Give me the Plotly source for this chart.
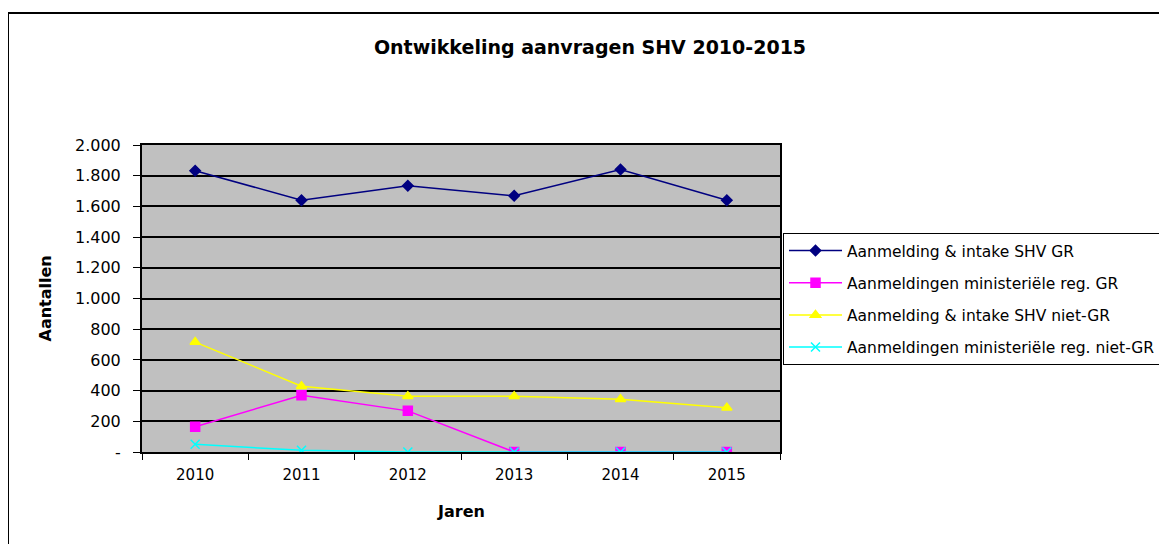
import plotly.graph_objects as go

jaren = ['2010', '2011', '2012', '2013', '2014', '2015']

series = {
    'Aanmelding & intake SHV GR': [1832, 1640, 1734, 1669, 1841, 1640],
    'Aanmeldingen ministeriële reg. GR': [165, 370, 268, 0, 0, 0],
    'Aanmelding & intake SHV niet-GR': [716, 429, 363, 363, 344, 289],
    'Aanmeldingen ministeriële reg. niet-GR': [50, 11, 0, 0, 0, 0],
}

colors = ['#000080', '#FF00FF', '#FFFF00', '#00FFFF']
symbols = ['diamond', 'square', 'triangle-up', 'x-thin-open']
sizes = [8, 9, 9, 9]

fig = go.Figure()

for idx, (name, vals) in enumerate(series.items()):
    fig.add_trace(go.Scatter(
        x = jaren,
        y = vals,
        mode = 'markers+lines',
        name = name,
        legendgroup = name,
        line = dict(color=colors[idx], width=1.5),
        marker = dict(symbol=symbols[idx], size=sizes[idx], color=colors[idx],
                      line=dict(color=colors[idx], width=1.5)),
    ))

tickvals = list(range(0, 2001, 200))
ticktext = ['-' if v == 0 else f'{v:,}'.replace(',', '.') for v in tickvals]

off = 8  # pagina-marge van de browser
fig.update_layout(
    width=1167, height=544,
    margin=dict(l=142-off, r=1167-(142-off)-638, t=145-off, b=544-(145-off)-307),
    paper_bgcolor='white',
    plot_bgcolor='#C0C0C0',
    font=dict(family='DejaVu Sans', size=15, color='black'),
    showlegend=True,
    title=dict(text='<b>Ontwikkeling aanvragen SHV 2010-2015</b>',
               xref='container', x=(590-off)/1167, xanchor='center',
               yref='container', y=1-(47-off)/544, yanchor='middle',
               font=dict(size=19, color='black')),
    legend=dict(
        x=(783-142)/638, xanchor='left',
        y=(452-233)/307, yanchor='top',
        bordercolor='black', borderwidth=1,
        bgcolor='white',
        font=dict(size=15.5),
        traceorder='grouped',
        tracegroupgap=9,
        itemwidth=53,
    ),
)

fig.update_xaxes(
    type='category', range=[-0.5, 5.5],
    showline=True, linecolor='black', linewidth=2, mirror=True,
    ticks='outside', tickson='boundaries', ticklen=6, tickcolor='black',
    showgrid=False, tickfont=dict(size=15), ticklabelstandoff=8,
)
fig.update_yaxes(
    range=[0, 2000], tickvals=tickvals, ticktext=ticktext,
    showline=True, linecolor='black', linewidth=2, mirror=True,
    ticks='outside', ticklen=7, tickcolor='black',
    showgrid=True, gridcolor='black', gridwidth=1.5,
    zeroline=False, tickfont=dict(size=16), ticklabelstandoff=9,
)

fig.add_annotation(text='<b>Jaren</b>', xref='paper', yref='paper',
                   x=(461-142)/638, y=(452-511)/307, showarrow=False,
                   xanchor='center', yanchor='middle',
                   font=dict(size=16))
fig.add_annotation(text='<b>Aantallen</b>', xref='paper', yref='paper',
                   x=(45-142)/638, y=0.5, showarrow=False, textangle=-90,
                   xanchor='center', yanchor='middle',
                   font=dict(size=16))

# rand om het hele grafiekgebied
fig.add_shape(type='rect', xref='paper', yref='paper',
              x0=(8-142)/638, y0=-1, x1=2, y1=(452-13)/307,
              line=dict(color='black', width=2), layer='below')

fig.write_html("out.html")
